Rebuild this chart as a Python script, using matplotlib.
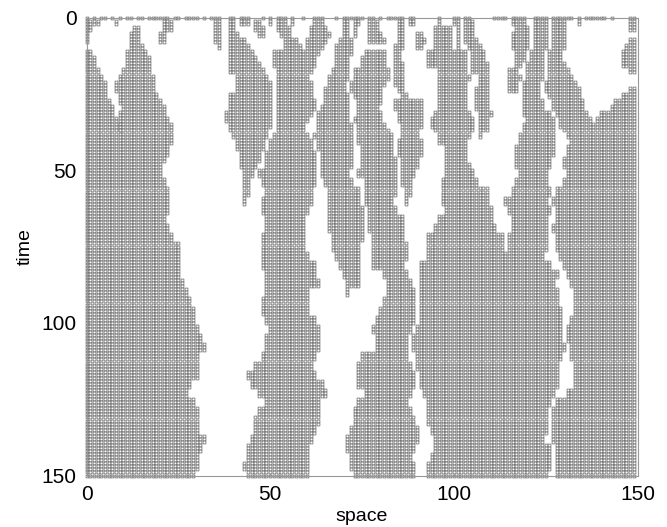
import matplotlib
matplotlib.use('Agg')
import matplotlib.pyplot as plt

plt.rcParams['font.family'] = ['Liberation Sans', 'DejaVu Sans']

# each row block holds from its start time until the next start time
block_times = [0, 1, 3, 5, 7, 9, 11, 13, 15, 17, 19, 21, 23, 25, 27, 29, 31, 33, 35, 37,
               38, 40, 42, 44, 46, 48, 50, 53, 56, 59, 62, 65, 68, 71, 74, 77, 80, 83, 86,
               89, 92, 95, 98, 101, 104, 107, 110, 113, 116, 119, 122, 125, 128, 131, 134,
               137, 140, 143, 146, 149]

block_runs = [
    [(0,0),(2,2),(4,5),(7,7),(9,9),(11,12),(14,15),(17,20),(21,22),(24,25),(27,30),(32,32),(34,36),(39,40),(42,44),(48,48),(50,50),(52,54),(56,56),(59,59),(62,64),(68,68),(70,75),(77,78),(80,80),(82,84),(85,86),(88,89),(96,96),(100,101),(103,104),(111,114),(116,119),(122,125),(127,132),(134,134),(136,141),(143,143),(148,149)],
    [(0,3),(8,8),(21,23),(35,36),(39,40),(42,44),(46,47),(50,50),(52,54),(56,56),(62,64),(70,71),(73,74),(77,79),(85,86),(88,89),(96,96),(100,101),(103,105),(116,119),(122,125),(127,130),(134,134),(148,149)],
    [(0,1),(13,14),(21,23),(35,36),(39,40),(46,48),(52,55),(61,65),(70,71),(73,73),(77,79),(85,86),(95,99),(101,101),(103,105),(117,120),(122,125),(127,130),(148,149)],
    [(0,0),(12,14),(20,21),(35,36),(39,41),(47,48),(53,55),(61,66),(70,71),(73,73),(77,80),(85,86),(90,91),(95,99),(101,101),(103,105),(116,120),(122,125),(127,130)],
    [(0,0),(12,14),(20,21),(35,36),(39,43),(54,57),(60,65),(69,72),(77,81),(85,86),(90,92),(95,99),(101,101),(103,106),(116,120),(122,125),(127,130),(148,149)],
    [(12,15),(36,36),(39,44),(54,58),(60,64),(68,72),(84,86),(90,91),(95,99),(101,101),(104,107),(116,120),(122,125),(127,130),(147,149)],
    [(0,1),(11,16),(39,45),(51,63),(68,72),(76,81),(84,85),(93,103),(105,108),(117,119),(121,124),(126,129),(146,149)],
    [(0,2),(11,17),(39,46),(51,62),(68,71),(75,81),(84,85),(93,103),(105,108),(117,119),(121,124),(126,129),(146,149)],
    [(0,2),(11,17),(39,47),(51,62),(68,71),(75,81),(84,86),(93,103),(105,109),(117,118),(120,124),(126,130),(146,149)],
    [(0,3),(10,17),(39,48),(52,61),(67,71),(73,82),(84,86),(96,103),(105,109),(115,117),(120,124),(126,131),(148,149)],
    [(0,4),(9,18),(41,49),(52,60),(66,71),(73,82),(84,86),(96,104),(107,109),(115,118),(120,124),(126,132)],
    [(0,5),(8,18),(41,50),(52,61),(66,70),(72,81),(84,86),(96,103),(107,109),(115,117),(119,123),(125,133)],
    [(0,5),(8,18),(41,50),(52,61),(65,70),(72,80),(85,86),(96,103),(106,109),(115,117),(119,123),(125,134),(148,149)],
    [(0,5),(9,19),(39,50),(52,61),(65,71),(73,80),(86,87),(96,103),(106,109),(119,123),(126,134),(146,149)],
    [(0,6),(9,20),(39,50),(52,62),(65,71),(74,80),(84,91),(96,103),(106,109),(119,124),(127,135),(144,149)],
    [(0,7),(10,21),(39,50),(52,62),(64,71),(74,79),(84,91),(96,103),(106,109),(119,124),(127,135),(143,149)],
    [(0,7),(9,21),(38,50),(52,61),(63,71),(74,80),(85,91),(95,104),(107,110),(119,126),(128,136),(140,149)],
    [(0,8),(9,22),(38,50),(52,60),(63,71),(73,80),(85,91),(94,105),(107,109),(120,127),(129,137),(139,149)],
    [(0,9),(9,23),(39,50),(52,59),(63,72),(74,81),(86,91),(94,105),(107,109),(119,127),(129,138),(139,149)],
    [(0,9),(9,23),(39,49),(52,59),(63,72),(74,82),(86,90),(95,105),(107,109),(119,127),(130,149)],
    [(0,23),(40,49),(51,60),(62,72),(74,83),(86,90),(96,104),(107,107),(118,127),(131,149)],
    [(0,23),(41,48),(50,61),(63,72),(74,83),(85,91),(96,103),(118,127),(132,149)],
    [(0,22),(41,48),(50,61),(63,72),(75,83),(85,91),(98,103),(117,127),(131,149)],
    [(0,22),(42,47),(49,62),(64,72),(75,83),(85,91),(98,103),(117,127),(131,149)],
    [(0,21),(42,47),(49,62),(64,72),(75,84),(86,90),(98,103),(117,126),(130,149)],
    [(0,20),(42,46),(49,62),(64,72),(75,84),(86,90),(98,104),(117,126),(130,149)],
    [(0,20),(43,45),(47,62),(64,71),(74,84),(86,89),(98,105),(118,125),(131,149)],
    [(0,21),(43,44),(48,62),(65,72),(76,84),(86,88),(97,106),(117,125),(130,149)],
    [(0,22),(43,44),(49,61),(66,74),(76,84),(87,88),(97,109),(116,126),(128,149)],
    [(0,22),(43,43),(48,61),(66,74),(76,83),(87,87),(97,109),(114,125),(127,149)],
    [(0,22),(48,60),(66,75),(77,84),(98,110),(115,126),(128,149)],
    [(0,21),(49,59),(66,75),(77,86),(96,110),(116,125),(128,149)],
    [(0,22),(49,59),(66,75),(77,86),(95,111),(116,125),(127,149)],
    [(0,23),(48,59),(67,75),(78,86),(93,113),(115,125),(128,149)],
    [(0,25),(48,59),(67,74),(78,87),(93,113),(115,125),(128,149)],
    [(0,25),(48,60),(68,74),(78,87),(93,124),(129,149)],
    [(0,25),(48,62),(69,74),(78,86),(91,126),(130,149)],
    [(0,25),(49,62),(70,74),(81,87),(91,128),(131,149)],
    [(0,26),(49,63),(71,74),(82,88),(91,127),(132,149)],
    [(0,27),(49,60),(71,71),(82,89),(91,128),(133,149)],
    [(0,28),(48,60),(81,89),(91,128),(133,149)],
    [(0,29),(48,60),(80,89),(91,129),(133,149)],
    [(0,29),(49,62),(79,89),(91,129),(132,149)],
    [(0,30),(50,63),(78,88),(90,129),(131,149)],
    [(0,31),(49,63),(79,87),(89,129),(131,149)],
    [(0,32),(49,63),(79,87),(89,130),(132,149)],
    [(0,30),(48,62),(75,87),(90,129),(132,149)],
    [(0,30),(46,61),(74,88),(90,128),(133,149)],
    [(0,30),(44,62),(74,89),(91,128),(133,149)],
    [(0,28),(45,64),(74,89),(91,128),(133,149)],
    [(0,27),(47,65),(76,88),(92,127),(131,149)],
    [(0,29),(49,63),(74,87),(93,126),(128,149)],
    [(0,30),(47,63),(73,88),(93,125),(127,149)],
    [(0,30),(46,63),(73,89),(93,125),(127,149)],
    [(0,30),(46,62),(72,90),(94,125),(127,149)],
    [(0,32),(45,61),(71,90),(95,124),(127,149)],
    [(0,31),(44,60),(71,89),(95,126),(128,149)],
    [(0,30),(44,60),(72,88),(94,126),(128,149)],
    [(0,30),(43,60),(72,89),(93,126),(128,149)],
    [(0,29),(44,60),(73,89),(93,125),(128,149)],
]

x_ticks = [0, 50, 100, 150]
y_ticks = [0, 50, 100, 150]

xs = []
ys = []
for i in range(len(block_times)):
    start = block_times[i]
    if i + 1 < len(block_times):
        stop = block_times[i + 1]
    else:
        stop = 151
    for t in range(start, stop):
        for a, b in block_runs[i]:
            for s in range(a, b + 1):
                xs.append(s)
                ys.append(t)

fig = plt.figure(figsize=(6.67, 5.27), dpi=100)
ax = fig.add_axes([86.5 / 667, 1 - 475.5 / 527, (637.5 - 86.5) / 667, (475.5 - 17.5) / 527])

# scatter keeps sub-pixel positions, plot() rounds markers to whole pixels
pts = ax.scatter(xs, ys, marker='s', s=4.2, facecolors='white', edgecolors='#626262',
                 linewidths=0.5, clip_on=False)
pts.set_snap(False)

ax.set_xlim(0, 150)
ax.set_ylim(150, 0)
ax.set_xticks(x_ticks)
ax.set_yticks(y_ticks)
ax.tick_params(direction='in', length=2, width=0.5, color='#888888', labelsize=15, pad=7)
for sp in ax.spines.values():
    sp.set_color('#999999')
    sp.set_linewidth(0.8)
ax.set_xlabel('space', fontsize=14, labelpad=2.5)
ax.set_ylabel('time', fontsize=14, labelpad=6)

fig.savefig('out.png', dpi=100)
